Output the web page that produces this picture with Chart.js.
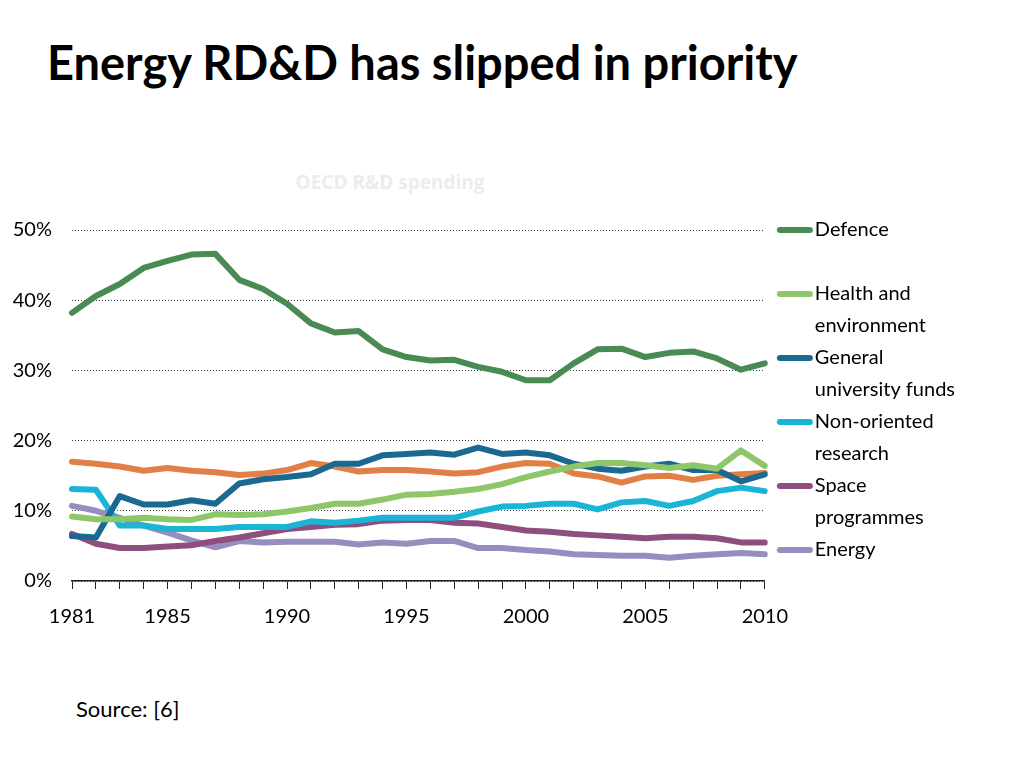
<!DOCTYPE html>
<html lang="en">
<head>
<meta charset="UTF-8">
<title>Energy RD&amp;D has slipped in priority</title>
<script src="https://cdn.jsdelivr.net/npm/chart.js"></script>
<style>
  html, body {
    margin: 0;
    padding: 0;
    background: #fff;
    width: 1024px;
    height: 768px;
    overflow: hidden;
    font-family: Lato, sans-serif;
  }
  h1 {
    position: absolute;
    left: 47px;
    top: 34px;
    margin: 0;
    font-size: 47px;
    font-weight: bold;
    color: #000;
    white-space: nowrap;
  }
  .subtitle {
    position: absolute;
    left: 290px;
    top: 169px;
    width: 200px;
    text-align: center;
    font-family: "Open Sans", sans-serif;
    font-weight: bold;
    font-size: 19px;
    color: #ececec;
  }
  .chart-box {
    position: absolute;
    left: 0;
    top: 220px;
    width: 1024px;
    height: 440px;
  }
  .source {
    position: absolute;
    left: 76px;
    top: 695px;
    font-size: 22px;
    color: #000;
  }
</style>
</head>
<body>

<h1>Energy RD&amp;D has slipped in priority</h1>
<div class="subtitle">OECD R&amp;D spending</div>
<div class="chart-box"><canvas id="rdChart"></canvas></div>
<div class="source">Source: [6]</div>

<script>
  const years = ['1981','1982','1983','1984','1985','1986','1987','1988','1989','1990',
                 '1991','1992','1993','1994','1995','1996','1997','1998','1999','2000',
                 '2001','2002','2003','2004','2005','2006','2007','2008','2009','2010'];
  const labelledYears = ['1981', '1985', '1990', '1995', '2000', '2005', '2010'];

  // shares of OECD government R&D budget, %
  const defence = [38.2, 40.6, 42.3, 44.6, 45.6, 46.5, 46.6, 42.9, 41.6, 39.5,
                   36.7, 35.4, 35.6, 33.0, 31.9, 31.4, 31.5, 30.5, 29.8, 28.6,
                   28.6, 31.0, 33.0, 33.1, 31.9, 32.5, 32.7, 31.7, 30.1, 31.0];
  const health = [9.2, 8.8, 8.8, 9.0, 8.8, 8.7, 9.5, 9.4, 9.5, 9.9,
                  10.4, 11.0, 11.0, 11.6, 12.3, 12.4, 12.7, 13.1, 13.8, 14.8,
                  15.6, 16.3, 16.8, 16.8, 16.5, 16.1, 16.5, 16.0, 18.6, 16.4];
  const universityFunds = [6.4, 6.2, 12.1, 10.9, 10.9, 11.5, 11.0, 13.9, 14.5, 14.8,
                           15.2, 16.7, 16.7, 17.9, 18.1, 18.3, 18.0, 19.0, 18.1, 18.3,
                           17.9, 16.7, 16.0, 15.7, 16.3, 16.7, 15.8, 15.8, 14.2, 15.2];
  const nonOriented = [13.1, 13.0, 7.9, 7.9, 7.4, 7.4, 7.4, 7.7, 7.7, 7.7,
                       8.5, 8.3, 8.6, 9.0, 9.0, 9.0, 9.0, 9.9, 10.6, 10.7,
                       11.0, 11.0, 10.2, 11.2, 11.4, 10.7, 11.4, 12.8, 13.3, 12.8];
  const space = [6.7, 5.3, 4.7, 4.7, 4.9, 5.1, 5.7, 6.2, 6.8, 7.4,
                 7.7, 8.0, 8.1, 8.6, 8.7, 8.7, 8.3, 8.2, 7.7, 7.2,
                 7.0, 6.7, 6.5, 6.3, 6.1, 6.3, 6.3, 6.1, 5.5, 5.5];
  const energy = [10.7, 10.0, 9.0, 7.9, 6.9, 5.8, 4.8, 5.7, 5.5, 5.6,
                  5.6, 5.6, 5.2, 5.5, 5.3, 5.7, 5.7, 4.7, 4.7, 4.4,
                  4.2, 3.8, 3.7, 3.6, 3.6, 3.3, 3.6, 3.8, 4.0, 3.8];
  const other = [17.0, 16.7, 16.3, 15.7, 16.1, 15.7, 15.5, 15.1, 15.3, 15.8,
                 16.8, 16.3, 15.6, 15.8, 15.8, 15.6, 15.3, 15.5, 16.3, 16.8,
                 16.7, 15.3, 14.9, 14.0, 14.9, 15.0, 14.4, 15.0, 15.2, 15.4];

  const seriesNames = [['Defence', ''], ['Health and', 'environment'], ['General', 'university funds'],
                       ['Non-oriented', 'research'], ['Space', 'programmes'], ['Energy'], 'Other'];
  const seriesData = [defence, health, universityFunds, nonOriented, space, energy, other];
  const seriesColors = ['#4a8a55', '#8dc769', '#1b6890', '#1ab4d4', '#8e4f7e', '#958ebf', '#e17f45'];

  // legend marker: short thick line, offset to the right of its centre
  function makeMarker(color) {
    const c = document.createElement('canvas');
    c.width = 60;
    c.height = 10;
    const g = c.getContext('2d');
    g.strokeStyle = color;
    g.lineWidth = 6;
    g.lineCap = 'round';
    g.beginPath();
    g.moveTo(25, 5);
    g.lineTo(55, 5);
    g.stroke();
    return c;
  }

  const ctx = document.getElementById('rdChart').getContext('2d');

  const chart = new Chart(ctx, {
    type: 'line',
    data: {
      labels: years,
      datasets: seriesData.map((d, i) => ({
        label: seriesNames[i],
        data: d,
        borderColor: seriesColors[i],
        backgroundColor: seriesColors[i],
        borderWidth: 6,
        borderCapStyle: 'round',
        borderJoinStyle: 'round',
        pointRadius: 0,
        pointStyle: makeMarker(seriesColors[i]),
        tension: 0
      }))
    },
    options: {
      responsive: true,
      maintainAspectRatio: false,
      animation: false,
      layout: {
        padding: { left: 12, right: 59, top: 0, bottom: 15 }
      },
      plugins: {
        legend: {
          position: 'right',
          align: 'start',
          labels: {
            filter: (item) => item.datasetIndex < 6,
            usePointStyle: true,
            pointStyleWidth: 40,
            boxHeight: 20,
            padding: 0,
            color: '#000',
            font: { family: 'Lato', size: 20, lineHeight: 1.6 }
          }
        },
        tooltip: { enabled: false }
      },
      scales: {
        x: {
          type: 'category',
          offset: false,
          grid: {
            drawOnChartArea: false,
            drawTicks: true,
            tickLength: 8,
            tickColor: '#222',
            tickWidth: 1
          },
          border: { display: true, color: '#222', width: 1.5 },
          ticks: {
            autoSkip: false,
            maxRotation: 0,
            padding: 16,
            color: '#000',
            font: { family: 'Lato', size: 20 },
            callback: function (value) {
              const lbl = this.getLabelForValue(value);
              return labelledYears.includes(lbl) ? lbl : '';
            }
          }
        },
        y: {
          min: 0,
          max: 50,
          grid: {
            color: '#444',
            lineWidth: 1,
            drawTicks: true,
            tickLength: 20,
            tickColor: 'rgba(0,0,0,0)'
          },
          border: { display: false, dash: [1, 2] },
          ticks: {
            stepSize: 10,
            padding: 0,
            color: '#000',
            font: { family: 'Lato', size: 20, lineHeight: 1 },
            callback: (v) => v + '%'
          },
          afterFit: (s) => { s.width = 60; }
        }
      }
    }
  });
</script>

</body>
</html>
